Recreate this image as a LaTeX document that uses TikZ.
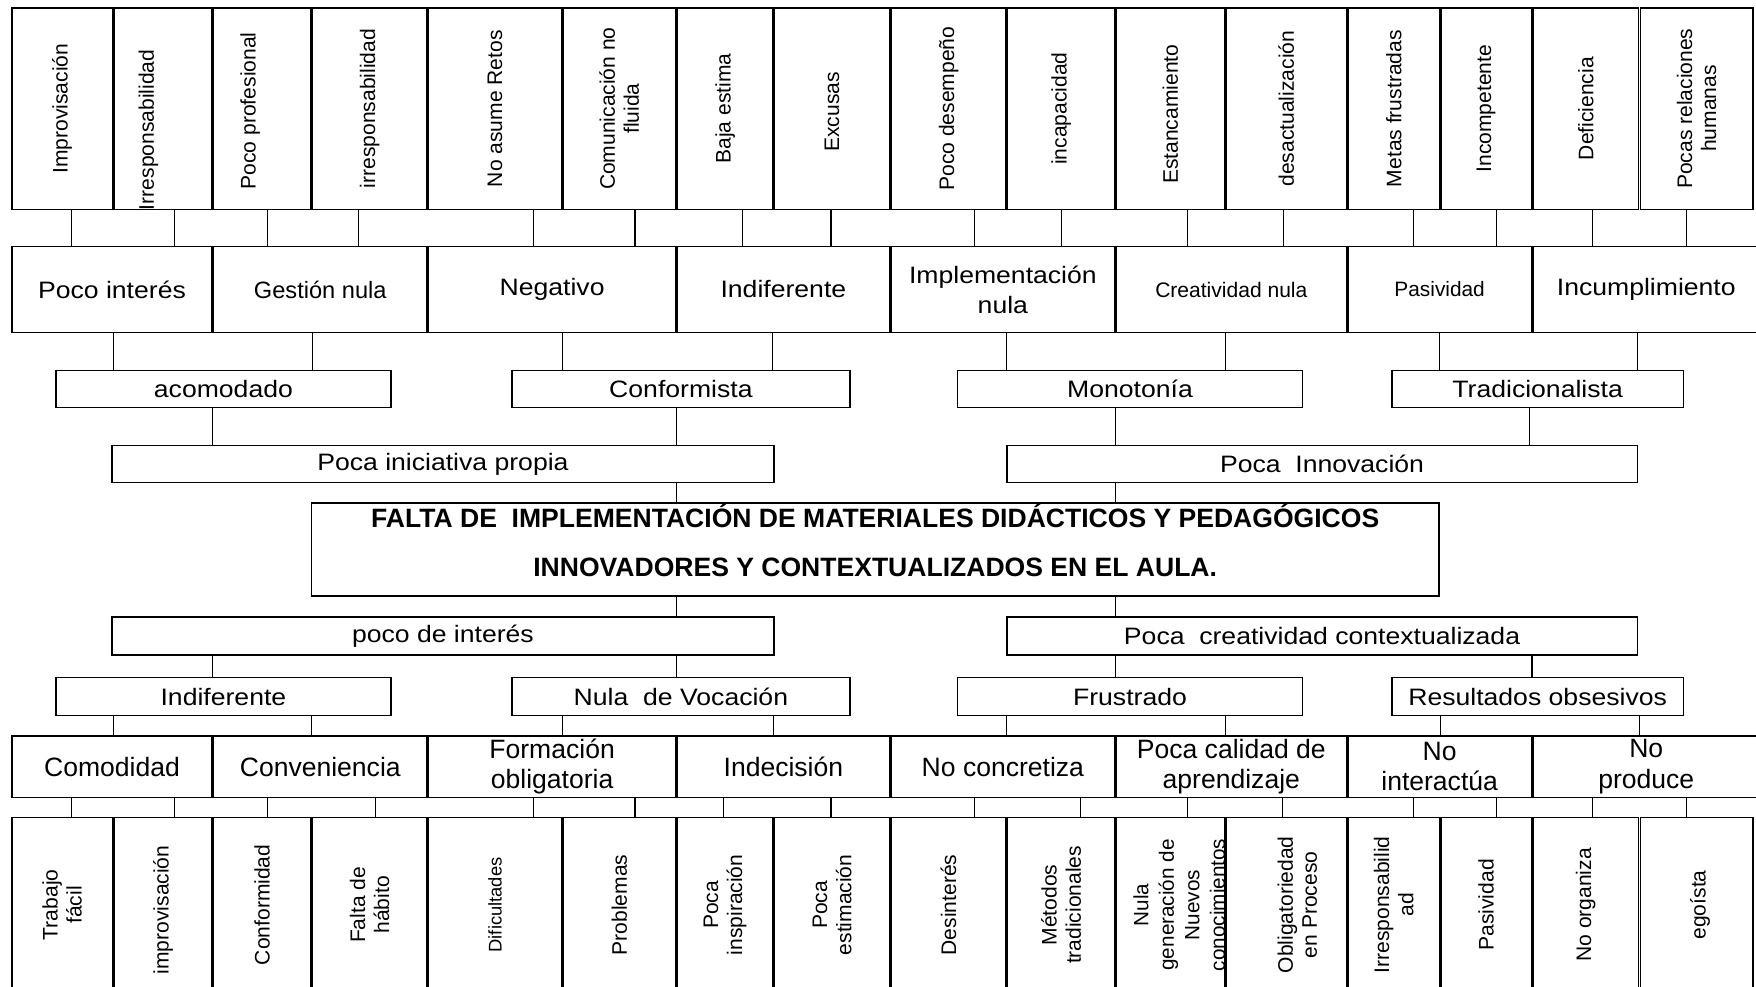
\documentclass[tikz,border=0pt]{standalone}
\usepackage{fontspec}
\setmainfont{Liberation Sans}
\newfontfamily\widesf[FakeStretch=1.12]{Liberation Sans}

\begin{document}
\begin{tikzpicture}[x=1pt, y=-1pt,
  every node/.style={draw, rectangle, line width=1.3pt, inner sep=0pt, align=center},
  vlab/.style={draw=none, rotate=90, font=\fontsize{18.8}{21.5}\selectfont},
  ttl/.style={draw=none, font=\bfseries\fontsize{23.7}{43.3}\selectfont},
  r1/.style={minimum height=180pt},
  r2/.style={minimum height=77pt, font=\widesf\fontsize{21.2}{27}\selectfont},
  r3/.style={minimum height=33pt, font=\widesf\fontsize{21.2}{25}\selectfont},
  r7/.style={minimum height=55pt, font=\fontsize{23.7}{27}\selectfont},
  r8/.style={minimum height=156pt},
  link/.style={line width=1pt}]

\useasboundingbox (0,0) rectangle (1568,881);

% top row
\node[r1, minimum width=89.6pt, label={[vlab]center:Improvisación}] (R1N1) at (55.5,97) {};
\node[r1, minimum width=87.6pt, label={[xshift=-13pt, yshift=-19pt, vlab]center:Irresponsabilidad}] (R1N2) at (145.5,97) {};
\node[r1, minimum width=86.6pt, label={[xshift=-10.5pt, yshift=-2pt, vlab]center:Poco profesional}] (R1N3) at (234,97) {};
\node[r1, minimum width=102.6pt, label={[vlab]center:irresponsabilidad}] (R1N4) at (330,97) {};
\node[r1, minimum width=118.6pt, label={[vlab]center:No asume Retos}] (R1N5) at (442,97) {};
\node[r1, minimum width=100.6pt, label={[vlab]center:Comunicación no\\fluida}] (R1N6) at (553,97) {};
\node[r1, minimum width=85.6pt, label={[vlab]center:Baja estima}] (R1N7) at (647.5,97) {};
\node[r1, minimum width=102.6pt, label={[yshift=-3pt, vlab]center:Excusas}] (R1N8) at (743,97) {};
\node[r1, minimum width=102.6pt, label={[vlab]center:Poco desempeño}] (R1N9) at (847,97) {};
\node[r1, minimum width=95.6pt, label={[vlab]center:incapacidad}] (R1N10) at (947.5,97) {};
\node[r1, minimum width=96.6pt, label={[yshift=-5pt, vlab]center:Estancamiento}] (R1N11) at (1045,97) {};
\node[r1, minimum width=107.6pt, label={[vlab]center:desactualización}] (R1N12) at (1148.5,97) {};
\node[r1, minimum width=81.6pt, label={[vlab]center:Metas frustradas}] (R1N13) at (1244.5,97) {};
\node[r1, minimum width=80.6pt, label={[vlab]center:Incompetente}] (R1N14) at (1327,97) {};
\node[r1, minimum width=94.6pt, label={[vlab]center:Deficiencia}] (R1N15) at (1416,97) {};
\node[r1, minimum width=100.6pt, label={[vlab]center:Pocas relaciones\\humanas}] (R1N16) at (1515,97) {};

% second row
\node[r2, minimum width=178.6pt] (R2N1) at (100,258.5) {Poco interés};
\node[r2, minimum width=190.6pt, font=\fontsize{21.1}{25}\selectfont] (R2N2) at (286,258.5) {Gestión nula};
\node[r2, minimum width=220.6pt] (R2N3) at (493,258.5) {Negativo};
\node[r2, minimum width=189.6pt] (R2N4) at (699.5,258.5) {Indiferente};
\node[r2, minimum width=199.6pt] (R2N5) at (895.5,258.5) {Implementación\\nula};
\node[r2, minimum width=205.6pt, font=\fontsize{18.8}{22}\selectfont] (R2N6) at (1099.5,258.5) {Creatividad nula};
\node[r2, minimum width=163.6pt, font=\fontsize{18.6}{22}\selectfont] (R2N7) at (1285.5,258.5) {Pasividad};
\node[r2, minimum width=202.6pt] (R2N8) at (1470,258.5) {Incumplimiento};

% third and fourth rows
\node[r3, minimum width=299pt] (R3N1) at (199.5,347.5) {acomodado};
\node[r3, minimum width=302pt] (R3N2) at (608,347.5) {Conformista};
\node[r3, minimum width=308pt] (R3N3) at (1009,347.5) {Monotonía};
\node[r3, minimum width=260pt] (R3N4) at (1373,347.5) {Tradicionalista};
\node[r3, minimum width=591pt] (R4N1) at (395.5,414.5) {Poca iniciativa propia};
\node[r3, minimum width=563pt] (R4N2) at (1180.5,414.5) {Poca\ \ Innovación};

% problem
\node[minimum width=1007pt, minimum height=83pt, label={[ttl, yshift=8pt]center:{FALTA DE\ \ IMPLEMENTACIÓN DE MATERIALES DIDÁCTICOS Y PEDAGÓGICOS\\INNOVADORES Y CONTEXTUALIZADOS EN EL AULA.}}] (M) at (781.5,490.5) {};

% fifth and sixth rows
\node[r3, minimum width=591pt, minimum height=34pt] (R5N1) at (395.5,568) {poco de interés};
\node[r3, minimum width=563pt, minimum height=34pt] (R5N2) at (1180.5,568) {Poca\ \ creatividad contextualizada};
\node[r3, minimum width=299pt, minimum height=34pt] (R6N1) at (199.5,622) {Indiferente};
\node[r3, minimum width=302pt, minimum height=34pt] (R6N2) at (608,622) {Nula\ \ de Vocación};
\node[r3, minimum width=308pt, minimum height=34pt] (R6N3) at (1009,622) {Frustrado};
\node[r3, minimum width=260pt, minimum height=34pt] (R6N4) at (1373,622) {Resultados obsesivos};

% seventh row
\node[r7, minimum width=178.6pt] (R7N1) at (100,684.5) {Comodidad};
\node[r7, minimum width=190.6pt] (R7N2) at (286,684.5) {Conveniencia};
\node[r7, minimum width=220.6pt] (R7N3) at (493,684.5) {Formación\\obligatoria};
\node[r7, minimum width=189.6pt] (R7N4) at (699.5,684.5) {Indecisión};
\node[r7, minimum width=199.6pt] (R7N5) at (895.5,684.5) {No concretiza};
\node[r7, minimum width=205.6pt] (R7N6) at (1099.5,684.5) {Poca calidad de\\aprendizaje};
\node[r7, minimum width=163.6pt] (R7N7) at (1285.5,684.5) {No\\interactúa};
\node[r7, minimum width=202.6pt] (R7N8) at (1470,684.5) {No\\produce};

% bottom row
\node[r8, minimum width=89.6pt, label={[vlab]center:Trabajo\\fácil}] (R8N1) at (55.5,808) {};
\node[r8, minimum width=87.6pt, label={[yshift=-4.5pt, vlab]center:improvisación}] (R8N2) at (145.5,808) {};
\node[r8, minimum width=86.6pt, label={[vlab]center:Conformidad}] (R8N3) at (234,808) {};
\node[r8, minimum width=102.6pt, label={[vlab]center:Falta de\\hábito}] (R8N4) at (330,808) {};
\node[r8, minimum width=118.6pt, label={[vlab, font=\fontsize{16.4}{19}\selectfont]center:Dificultades}] (R8N5) at (442,808) {};
\node[r8, minimum width=100.6pt, label={[vlab]center:Problemas}] (R8N6) at (553,808) {};
\node[r8, minimum width=85.6pt, label={[vlab]center:Poca\\inspiración}] (R8N7) at (647.5,808) {};
\node[r8, minimum width=102.6pt, label={[vlab]center:Poca\\estimación}] (R8N8) at (743,808) {};
\node[r8, minimum width=102.6pt, label={[vlab]center:Desinterés}] (R8N9) at (847,808) {};
\node[r8, minimum width=95.6pt, label={[vlab]center:Métodos\\tradicionales}] (R8N10) at (947.5,808) {};
\node[r8, minimum width=96.6pt, label={[xshift=8pt, vlab, font=\fontsize{18.5}{22.8}\selectfont]center:Nula\\generación de\\Nuevos\\conocimientos}] (R8N11) at (1045,808) {};
\node[r8, minimum width=107.6pt, label={[xshift=10pt, vlab]center:Obligatoriedad\\en Proceso}] (R8N12) at (1148.5,808) {};
\node[r8, minimum width=81.6pt, label={[vlab]center:Irresponsabilid\\ad}] (R8N13) at (1244.5,808) {};
\node[r8, minimum width=80.6pt, label={[vlab]center:Pasividad}] (R8N14) at (1327,808) {};
\node[r8, minimum width=94.6pt, label={[vlab]center:No organiza}] (R8N15) at (1416,808) {};
\node[r8, minimum width=100.6pt, label={[xshift=3pt, vlab]center:egoísta}] (R8N16) at (1515,808) {};

% links, top half
\draw[link] (R1N1.south -| 64,0) -- (R2N1.north -| 64,0);
\draw[link] (R1N2.south -| 156,0) -- (R2N1.north -| 156,0);
\draw[link] (R1N3.south -| 239,0) -- (R2N2.north -| 239,0);
\draw[link] (R1N4.south -| 320,0) -- (R2N2.north -| 320,0);
\draw[link] (R1N5.south -| 476,0) -- (R2N3.north -| 476,0);
\draw[link] (R1N6.south -| 567,0) -- (R2N3.north -| 567,0);
\draw[link] (R1N7.south -| 663,0) -- (R2N4.north -| 663,0);
\draw[link] (R1N8.south -| 742,0) -- (R2N4.north -| 742,0);
\draw[link] (R1N9.south -| 870,0) -- (R2N5.north -| 870,0);
\draw[link] (R1N10.south -| 948,0) -- (R2N5.north -| 948,0);
\draw[link] (R1N11.south -| 1060,0) -- (R2N6.north -| 1060,0);
\draw[link] (R1N12.south -| 1146,0) -- (R2N6.north -| 1146,0);
\draw[link] (R1N13.south -| 1262,0) -- (R2N7.north -| 1262,0);
\draw[link] (R1N14.south -| 1336,0) -- (R2N7.north -| 1336,0);
\draw[link] (R1N15.south -| 1422,0) -- (R2N8.north -| 1422,0);
\draw[link] (R1N16.south -| 1506,0) -- (R2N8.north -| 1506,0);
\draw[link] (R2N1.south -| 101,0) -- (R3N1.north -| 101,0);
\draw[link] (R2N2.south -| 279,0) -- (R3N1.north -| 279,0);
\draw[link] (R2N3.south -| 502,0) -- (R3N2.north -| 502,0);
\draw[link] (R2N4.south -| 690,0) -- (R3N2.north -| 690,0);
\draw[link] (R2N5.south -| 899,0) -- (R3N3.north -| 899,0);
\draw[link] (R2N6.south -| 1094,0) -- (R3N3.north -| 1094,0);
\draw[link] (R2N7.south -| 1285,0) -- (R3N4.north -| 1285,0);
\draw[link] (R2N8.south -| 1462,0) -- (R3N4.north -| 1462,0);
\draw[link] (R3N1.south -| 190,0) -- (R4N1.north -| 190,0);
\draw[link] (R3N2.south -| 604,0) -- (R4N1.north -| 604,0);
\draw[link] (R3N3.south -| 996,0) -- (R4N2.north -| 996,0);
\draw[link] (R3N4.south -| 1366,0) -- (R4N2.north -| 1366,0);
\draw[link] (R4N1.south -| 604,0) -- (M.north -| 604,0);
\draw[link] (R4N2.south -| 996,0) -- (M.north -| 996,0);

% links, bottom half
\draw[link] (M.south -| 604,0) -- (R5N1.north -| 604,0);
\draw[link] (M.south -| 996,0) -- (R5N2.north -| 996,0);
\draw[link] (R5N1.south -| 190,0) -- (R6N1.north -| 190,0);
\draw[link] (R5N1.south -| 604,0) -- (R6N2.north -| 604,0);
\draw[link] (R5N2.south -| 996,0) -- (R6N3.north -| 996,0);
\draw[link] (R5N2.south -| 1368,0) -- (R6N4.north -| 1368,0);
\draw[link] (R6N1.south -| 101,0) -- (R7N1.north -| 101,0);
\draw[link] (R6N1.south -| 278,0) -- (R7N2.north -| 278,0);
\draw[link] (R6N2.south -| 502,0) -- (R7N3.north -| 502,0);
\draw[link] (R6N2.south -| 691,0) -- (R7N4.north -| 691,0);
\draw[link] (R6N3.south -| 899,0) -- (R7N5.north -| 899,0);
\draw[link] (R6N3.south -| 1094,0) -- (R7N6.north -| 1094,0);
\draw[link] (R6N4.south -| 1286,0) -- (R7N7.north -| 1286,0);
\draw[link] (R6N4.south -| 1464,0) -- (R7N8.north -| 1464,0);
\draw[link] (R7N1.south -| 64,0) -- (R8N1.north -| 64,0);
\draw[link] (R7N1.south -| 156,0) -- (R8N2.north -| 156,0);
\draw[link] (R7N2.south -| 239,0) -- (R8N3.north -| 239,0);
\draw[link] (R7N2.south -| 335,0) -- (R8N4.north -| 335,0);
\draw[link] (R7N3.south -| 476,0) -- (R8N5.north -| 476,0);
\draw[link] (R7N3.south -| 567,0) -- (R8N6.north -| 567,0);
\draw[link] (R7N4.south -| 646,0) -- (R8N7.north -| 646,0);
\draw[link] (R7N4.south -| 742,0) -- (R8N8.north -| 742,0);
\draw[link] (R7N5.south -| 870,0) -- (R8N9.north -| 870,0);
\draw[link] (R7N5.south -| 965,0) -- (R8N10.north -| 965,0);
\draw[link] (R7N6.south -| 1060,0) -- (R8N11.north -| 1060,0);
\draw[link] (R7N6.south -| 1145,0) -- (R8N12.north -| 1145,0);
\draw[link] (R7N7.south -| 1262,0) -- (R8N13.north -| 1262,0);
\draw[link] (R7N7.south -| 1336,0) -- (R8N14.north -| 1336,0);
\draw[link] (R7N8.south -| 1422,0) -- (R8N15.north -| 1422,0);
\draw[link] (R7N8.south -| 1506,0) -- (R8N16.north -| 1506,0);
\end{tikzpicture}
\end{document}
